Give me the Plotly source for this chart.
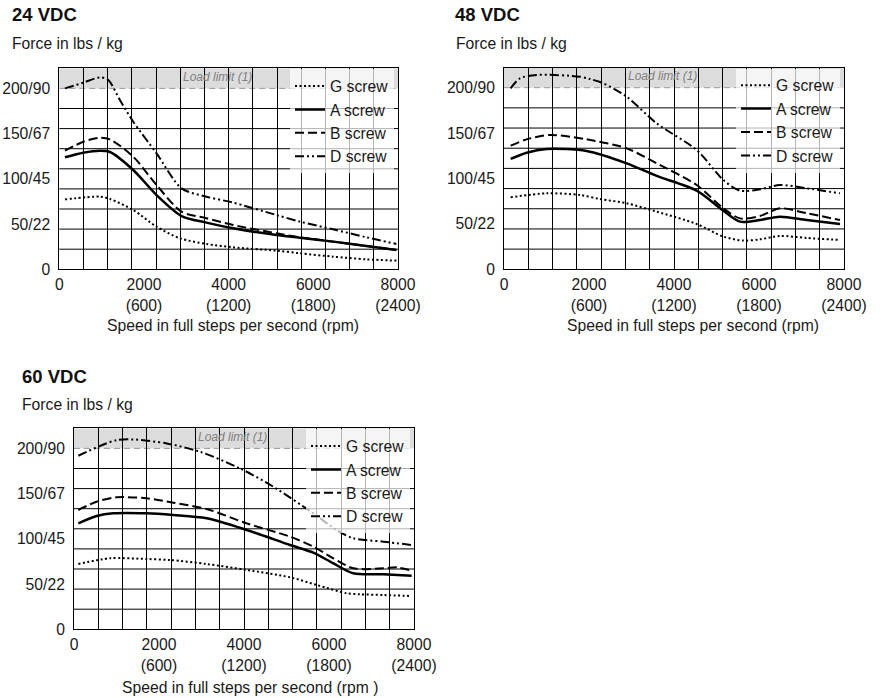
import plotly.graph_objects as go

# ---------------- data (speed in full steps/s, force in lbs) ----------------
# 24 VDC
x24_g = [134, 960, 1196, 1746, 2297, 2848, 3477, 4106, 5130, 5680, 6467, 7254, 7962]
f24_g = [77.3, 80.3, 77.7, 65.6, 47.1, 34.3, 28.0, 24.3, 20.6, 17.7, 14.0, 11.0, 9.6]
x24_a = [134, 566, 960, 1196, 1746, 2297, 2887, 3477, 4106, 5130, 5680, 6467, 7254, 7962]
f24_a = [123.8, 128.9, 131.1, 129.7, 109.8, 82.1, 58.9, 51.6, 45.3, 37.9, 35.0, 30.6, 25.8, 21.4]
x24_b = [134, 566, 960, 1196, 1746, 2297, 2887, 3477, 4106, 5130, 5680, 6467, 7254, 7962]
f24_b = [131.1, 141.0, 145.5, 143.6, 124.5, 93.2, 63.7, 56.4, 49.0, 39.8, 35.4, 30.6, 25.8, 21.4]
x24_d = [134, 566, 960, 1157, 1432, 1746, 2297, 2887, 3477, 4106, 5130, 5680, 6467, 7254, 7962]
f24_d = [200.0, 206.3, 212.2, 209.2, 187.1, 163.2, 128.2, 89.5, 80.3, 73.7, 60.0, 52.7, 44.2, 35.4, 28.0]

# 48 VDC
x48_g = [157, 1004, 1788, 2259, 2886, 3592, 4533, 5161, 5631, 6024, 6494, 7122, 7906]
f48_g = [79.3, 83.7, 81.8, 77.4, 72.7, 63.5, 49.9, 36.0, 31.6, 33.0, 36.7, 34.5, 32.3]
x48_a = [157, 533, 1004, 1945, 2886, 3592, 4533, 5161, 5553, 6024, 6494, 7122, 7906]
f48_a = [121.5, 128.4, 132.5, 130.3, 116.7, 102.8, 86.6, 64.6, 52.5, 54.3, 58.0, 54.3, 49.9]
x48_b = [157, 533, 1082, 1945, 2886, 3592, 4533, 5161, 5553, 6024, 6494, 7122, 7906]
f48_b = [136.1, 143.1, 147.9, 143.1, 133.2, 116.7, 92.8, 67.2, 56.1, 58.7, 67.2, 61.7, 54.3]
x48_d = [157, 376, 769, 1788, 2024, 2337, 2886, 3592, 4533, 5161, 5553, 6024, 6494, 7122, 7906]
f48_d = [199.3, 210.3, 214.0, 212.1, 209.5, 204.8, 190.1, 160.7, 131.4, 98.3, 86.6, 88.1, 92.8, 89.2, 83.7]

# 60 VDC
x60_g = [102, 847, 1710, 2259, 3122, 4063, 5082, 5710, 6416, 6729, 7278, 7945]
f60_g = [72.2, 78.5, 77.7, 76.6, 72.2, 65.6, 57.5, 49.0, 39.8, 38.7, 37.9, 36.8]
x60_a = [102, 533, 925, 1710, 2337, 3122, 4063, 5082, 5631, 6102, 6573, 7278, 7945]
f60_a = [117.1, 125.2, 128.2, 128.2, 126.3, 122.7, 109.8, 93.2, 84.7, 72.9, 61.9, 60.8, 59.3]
x60_b = [102, 533, 1004, 1710, 2337, 3122, 4063, 5082, 5631, 6102, 6573, 7278, 7592, 7945]
f60_b = [131.9, 141.1, 145.9, 144.8, 140.0, 133.0, 117.1, 102.4, 91.3, 78.5, 67.4, 67.4, 68.5, 64.8]
x60_d = [102, 533, 1004, 1396, 2180, 2965, 3906, 4690, 5631, 6180, 6573, 7278, 7945]
f60_d = [191.9, 201.1, 209.2, 209.9, 205.5, 196.3, 177.9, 157.6, 128.2, 109.8, 100.6, 96.9, 93.2]

series_names = ["G screw", "A screw", "B screw", "D screw"]
panel_titles = ["24 VDC", "48 VDC", "60 VDC"]
y_tickvals = [0, 50, 100, 150, 200]
y_ticktext = ["0", "50/22", "100/45", "150/67", "200/90"]
x_tickvals = [0, 2000, 4000, 6000, 8000]
x_ticktext = ["0", "2000<br>(600)", "4000<br>(1200)", "6000<br>(1800)", "8000<br>(2400)"]
load_limit = 200
x_titles = ["Speed in full steps per second (rpm)",
            "Speed in full steps per second (rpm)",
            "Speed in full steps per second (rpm )"]

panels = [
    [(x24_g, f24_g), (x24_a, f24_a), (x24_b, f24_b), (x24_d, f24_d)],
    [(x48_g, f48_g), (x48_a, f48_a), (x48_b, f48_b), (x48_d, f48_d)],
    [(x60_g, f60_g), (x60_a, f60_a), (x60_b, f60_b), (x60_d, f60_d)],
]

# ---------------- layout geometry (pixels) ----------------
W, H = 882, 698
boxes = [(59.3, 398.0, 68.3, 269.3), (504.0, 844.0, 67.5, 269.3), (74.0, 414.0, 428.3, 629.3)]
title_pos = [(10, 15), (453, 15), (20, 376)]
force_pos = [(10, 44), (454, 44), (20, 405)]
xtitle_pos = [(233, 325), (693, 325), (250, 687)]

FONT = "Liberation Sans, Arial, sans-serif"
TXT = 15.7
styles = [
    dict(dash="2px,2.5px", width=2),
    dict(dash="solid", width=2.5),
    dict(dash="9px,4px", width=2),
    dict(dash="9px,3px,2px,3px,2px,3px", width=2),
]

fig = go.Figure()
layout = dict(width=W, height=H, autosize=False, margin=dict(l=0, r=0, t=0, b=0, pad=0),
              paper_bgcolor="white", plot_bgcolor="white",
              font=dict(family=FONT, size=TXT, color="#1a1a1a"))
shapes, annotations = [], []
ymax = load_limit * 10 / 9

for i, series in enumerate(panels):
    n = "" if i == 0 else str(i + 1)
    xa, ya = "x" + n, "y" + n
    lg = "legend" + n
    for j, (xs, fs) in enumerate(series):
        fig.add_trace(go.Scatter(
            x=xs, y=fs, mode="lines", name=series_names[j],
            line=dict(color="black", shape="spline", smoothing=0.8, **styles[j]),
            xaxis=xa, yaxis=ya, legend=lg, showlegend=True))
    l, r, t, b = boxes[i]
    layout["xaxis" + n] = dict(
        domain=[l / W, r / W], anchor=ya, range=[0, 8000], automargin=False,
        tickvals=x_tickvals, ticktext=x_ticktext, showgrid=False, zeroline=False,
        showline=True, mirror=True, linecolor="black", linewidth=1, ticks="",
        ticklabelstandoff=1,
        minor=dict(dtick=8000 / 14, tick0=0, showgrid=True, gridcolor="black", gridwidth=1, ticks=""),
        tickfont=dict(size=TXT), fixedrange=True)
    layout["yaxis" + n] = dict(
        domain=[1 - b / H, 1 - t / H], anchor=xa, range=[0, ymax], automargin=False,
        tickvals=y_tickvals, ticktext=y_ticktext, showgrid=False, zeroline=False,
        showline=True, mirror=True, linecolor="black", linewidth=1, ticks="",
        ticklabelstandoff=5, tickfont=dict(size=TXT), fixedrange=True)
    layout[lg] = dict(
        x=(r - 4) / W, y=1 - (t + 1) / H, xref="paper", yref="paper",
        xanchor="right", yanchor="top", bgcolor="rgba(255,255,255,0.7)",
        borderwidth=0, font=dict(family=FONT, size=TXT, color="#1a1a1a"),
        tracegroupgap=0, itemwidth=30)
    # load-limit band (drawn below the grid)
    shapes.append(dict(type="rect", xref=xa + " domain", yref=ya, x0=0, x1=1,
                       y0=load_limit, y1=ymax, fillcolor="#dcdcdc", line=dict(width=0),
                       layer="below"))
    # horizontal grid: 9 equal divisions below the load limit
    for k in range(1, 9):
        yk = load_limit * k / 9
        shapes.append(dict(type="line", xref=xa + " domain", yref=ya, x0=0, x1=1,
                           y0=yk, y1=yk, line=dict(color="black", width=1), layer="below"))
    shapes.append(dict(type="line", xref=xa + " domain", yref=ya, x0=0, x1=1,
                       y0=load_limit, y1=load_limit,
                       line=dict(color="#9a9a9a", width=1, dash="6px,4px"), layer="below"))
    annotations.append(dict(text="<i>Load limit (1)</i>", x=3725, y=213, xref=xa, yref=ya,
                            showarrow=False, font=dict(size=12, color="#808080"),
                            xanchor="center", yanchor="middle"))
    tx, ty = title_pos[i]
    annotations.append(dict(text="<b>" + panel_titles[i] + "</b>", x=tx / W, y=1 - ty / H,
                            xref="paper", yref="paper", xanchor="left", yanchor="middle",
                            showarrow=False, font=dict(size=18.5, color="#111")))
    fx, fy = force_pos[i]
    annotations.append(dict(text="Force in lbs / kg", x=fx / W, y=1 - fy / H,
                            xref="paper", yref="paper", xanchor="left", yanchor="middle",
                            showarrow=False, font=dict(size=TXT, color="#1a1a1a")))
    sx, sy = xtitle_pos[i]
    annotations.append(dict(text=x_titles[i], x=sx / W, y=1 - sy / H,
                            xref="paper", yref="paper", xanchor="center", yanchor="middle",
                            showarrow=False, font=dict(size=TXT, color="#1a1a1a")))

layout["shapes"] = shapes
layout["annotations"] = annotations
fig.update_layout(**layout)
fig.write_html("out.html", config={"displayModeBar": False},
               post_script="document.body.style.margin='0';document.body.style.overflow='hidden';")
